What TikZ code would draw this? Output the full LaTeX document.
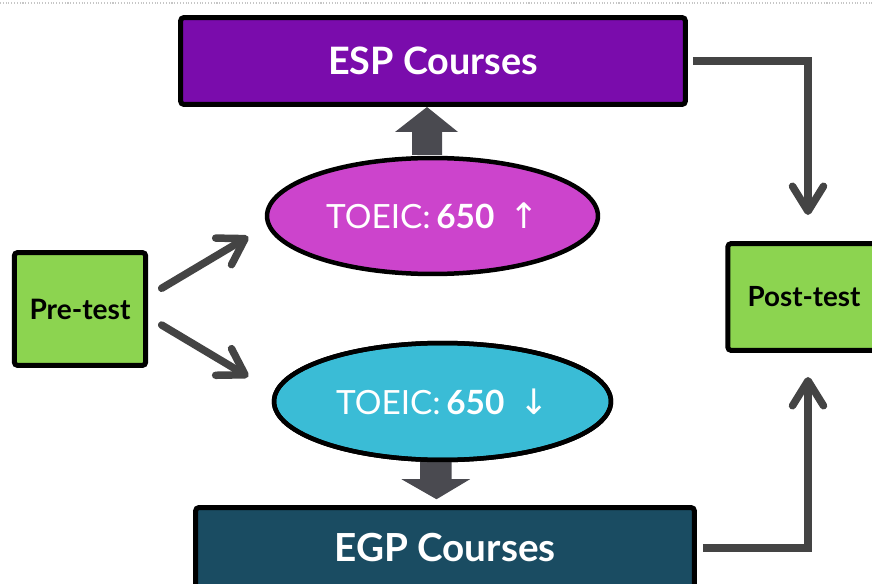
\documentclass[tikz,border=0pt]{standalone}
\usepackage{fontspec}
\setmainfont{Lato}
\newfontfamily\symfont{DejaVu Sans}
\usetikzlibrary{shapes.geometric,arrows.meta,calc}
\definecolor{espc}{RGB}{122,12,172}
\definecolor{egpc}{RGB}{26,76,98}
\definecolor{upc}{RGB}{204,68,204}
\definecolor{lowc}{RGB}{58,188,214}
\definecolor{greenc}{RGB}{140,212,80}
\definecolor{arrc}{RGB}{68,68,68}
\definecolor{blockc}{RGB}{74,74,80}
\tikzset{
  box/.style={draw=black, line width=0.1cm, rounded corners=2pt, inner sep=0pt, align=center},
  oval/.style={ellipse, draw=black, line width=0.09cm, inner sep=0pt, text=white, font=\fontsize{19}{22}\selectfont},
  conn/.style={draw=arrc, line width=0.15cm, -{Straight Barb[length=0.5cm,width=0.62cm,round]}},
  diag/.style={conn, line cap=round},
  blockarrow/.style={fill=blockc}
}
\begin{document}
\begin{tikzpicture}[x=0.02cm,y=-0.02cm]
\useasboundingbox (0,0) rectangle (872,584);
\clip (0,0) rectangle (872,584);
\draw[gray!45, densely dotted, line width=0.6pt] (0,3) -- (872,3);

% nodes
\node[box, fill=espc, text=white, minimum width=10.1cm, minimum height=1.74cm,
      font=\bfseries\fontsize{21.5}{25}\selectfont] (esp) at (433,61) {ESP Courses};
\node[box, fill=egpc, text=white, minimum width=9.98cm, minimum height=1.62cm,
      font=\bfseries\fontsize{22}{26}\selectfont] (egp) at (445,548) {EGP Courses};
\node[box, fill=greenc, text=black, minimum width=2.63cm, minimum height=2.26cm,
      font=\bfseries\fontsize{16}{19}\selectfont] (pre) at (80,309) {Pre-test};
\node[box, fill=greenc, text=black, minimum width=3.05cm, minimum height=2.14cm,
      font=\bfseries\fontsize{15.8}{19}\selectfont] (post) at (804,297) {Post-test};

% block arrows (drawn before ellipses)
\fill[blockarrow] ($(esp.south)+(-6,0)$) -- ($(esp.south)+(25,25)$) -- ($(esp.south)+(9,25)$)
   -- ($(esp.south)+(9,48)$) -- ($(esp.south)+(-21,48)$) -- ($(esp.south)+(-21,25)$)
   -- ($(esp.south)+(-38,25)$) -- cycle;

\node[oval, fill=upc, minimum width=6.62cm, minimum height=2.32cm] (up) at (432.5,216)
  {TOEIC:\,\textbf{650}\hspace{0.45em}{\symfont\fontsize{20}{22}\selectfont ↑}};
\node[oval, fill=lowc, minimum width=6.74cm, minimum height=2.34cm] (low) at (442.5,401.5)
  {TOEIC:\,\textbf{650}\hspace{0.45em}{\symfont\fontsize{20}{22}\selectfont ↓}};

\fill[blockarrow] ($(low.south)+(-22.5,-3)$) -- ($(low.south)+(9,-3)$) -- ($(low.south)+(9,17)$)
   -- ($(low.south)+(27.5,17)$) -- ($(low.south)+(-6,37)$) -- ($(low.south)+(-41,17)$)
   -- ($(low.south)+(-22.5,17)$) -- cycle;
% redraw lower ellipse outline over shaft top
\draw[black, line width=0.09cm] (low.center) ellipse [x radius=3.37cm, y radius=1.17cm];

% connectors
\draw[diag] ($(pre.east)+(13.4,-20.7)$) -- ($(up.west)+(-16.5,20.7)$);
\draw[diag] ($(pre.east)+(13.4,16)$) -- ($(low.west)+(-23.5,-24.8)$);
\draw[conn, shorten <=0.1cm, shorten >=0.52cm] (esp.east) -| ($(post.north)+(4,0)$);
\draw[conn, shorten <=0.12cm, shorten >=0.48cm] (egp.east) -| ($(post.south)+(4,0)$);
\end{tikzpicture}
\end{document}
